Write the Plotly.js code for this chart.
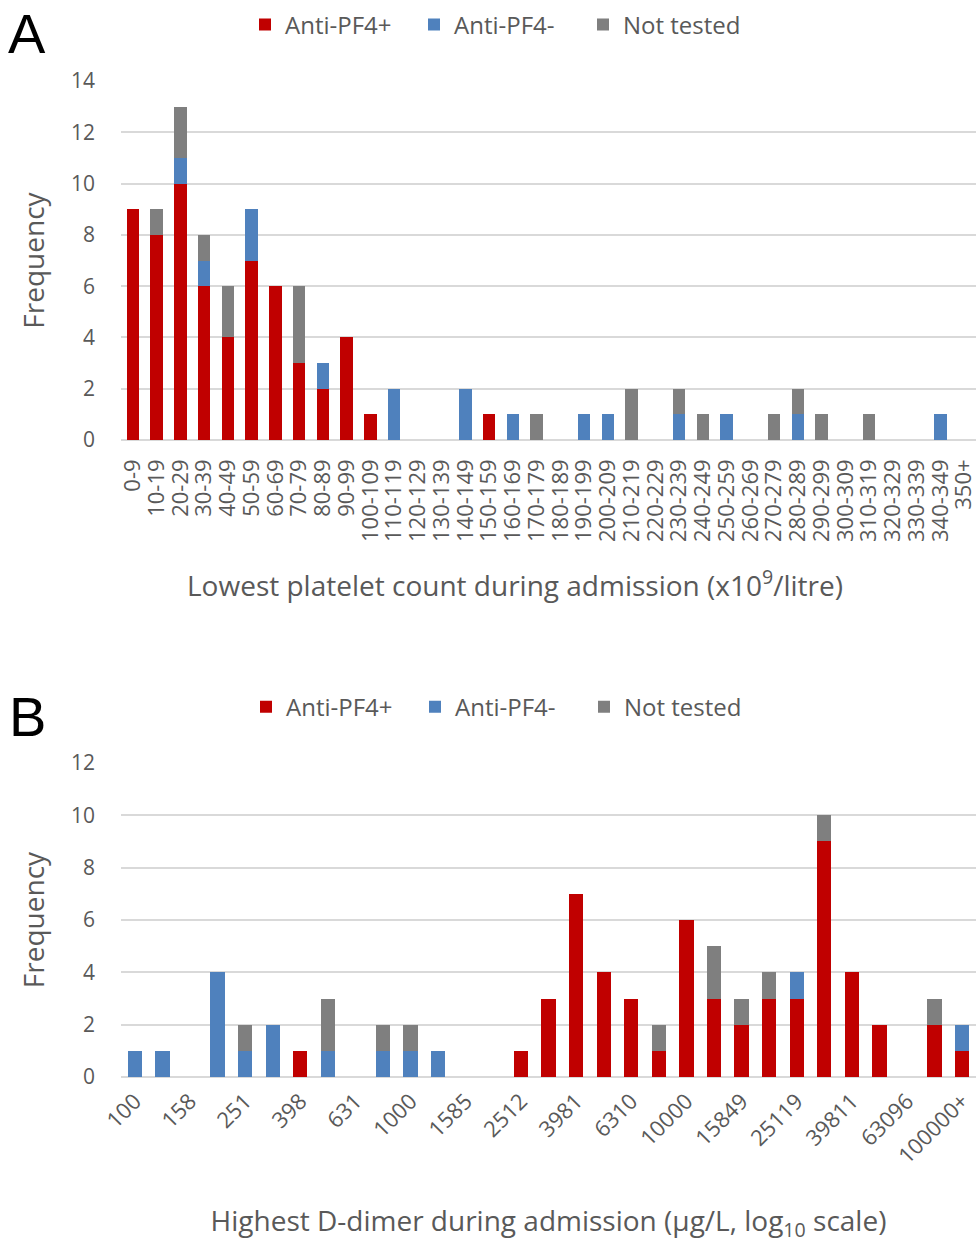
<!DOCTYPE html>
<html>
<head>
<meta charset="utf-8">
<script src="https://cdn.plot.ly/plotly-3.0.1.min.js"></script>
<style>html,body{margin:0;padding:0;background:#fff;}#chart{width:976px;height:1243px;}</style>
</head>
<body>
<div id="chart"></div>
<script>
// ---- Panel A: lowest platelet count ----
const plateletBins = ['0-9','10-19','20-29','30-39','40-49','50-59','60-69','70-79','80-89','90-99',
  '100-109','110-119','120-129','130-139','140-149','150-159','160-169','170-179','180-189','190-199',
  '200-209','210-219','220-229','230-239','240-249','250-259','260-269','270-279','280-289','290-299',
  '300-309','310-319','320-329','330-339','340-349','350+'];
const plateletPos  = [9,8,10,6,4,7,6,3,2,4,1,0,0,0,0,1,0,0,0,0,0,0,0,0,0,0,0,0,0,0,0,0,0,0,0,0];
const plateletNeg  = [0,0,1,1,0,2,0,0,1,0,0,2,0,0,2,0,1,0,0,1,1,0,0,1,0,1,0,0,1,0,0,0,0,0,1,0];
const plateletNT   = [0,1,2,1,2,0,0,3,0,0,0,0,0,0,0,0,0,1,0,0,0,2,0,1,1,0,0,1,1,1,0,1,0,0,0,0];

// ---- Panel B: highest D-dimer (log10 bins) ----
const ddimerBins = ['100','126','158','200','251','316','398','501','631','794','1000','1259','1585','1995',
  '2512','3162','3981','5012','6310','7943','10000','12589','15849','19953','25119','31623','39811',
  '50119','63096','79433','100000+'];
const ddimerPos = [0,0,0,0,0,0,1,0,0,0,0,0,0,0,1,3,7,4,3,1,6,3,2,3,3,9,4,2,0,2,1];
const ddimerNeg = [1,1,0,4,1,2,0,1,0,1,1,1,0,0,0,0,0,0,0,0,0,0,0,0,1,0,0,0,0,0,1];
const ddimerNT  = [0,0,0,0,1,0,0,2,0,1,1,0,0,0,0,0,0,0,0,1,0,2,1,1,0,1,0,0,0,1,0];
const ddimerTicks = ['100','158','251','398','631','1000','1585','2512','3981','6310','10000','15849',
  '25119','39811','63096','100000+'];

const seriesNames = ['Anti-PF4+','Anti-PF4-','Not tested'];
const seriesColors = ['#C00000','#4F81BD','#7F7F7F'];

const FONT = 'Open Sans, Lato, sans-serif';
const GREY = '#595959';

function mk(x, y, i, xa, ya, lg) {
  return {type:'bar', x:x, y:y, name:seriesNames[i], xaxis:xa, yaxis:ya, legend:lg,
    marker:{color:seriesColors[i], line:{width:0}}, hoverinfo:'x+y+name'};
}

const data = [
  mk(plateletBins, plateletPos, 0, 'x', 'y', 'legend'),
  mk(plateletBins, plateletNeg, 1, 'x', 'y', 'legend'),
  mk(plateletBins, plateletNT, 2, 'x', 'y', 'legend'),
  mk(ddimerBins, ddimerPos, 0, 'x2', 'y2', 'legend2'),
  mk(ddimerBins, ddimerNeg, 1, 'x2', 'y2', 'legend2'),
  mk(ddimerBins, ddimerNT, 2, 'x2', 'y2', 'legend2')
];

const yCommon = {dtick:2, showgrid:true, gridcolor:'#d9d9d9', gridwidth:1.5, zeroline:true,
  zerolinecolor:'#d9d9d9', zerolinewidth:1.5, showline:false, ticks:'', ticklabelstandoff:25,
  tickfont:{family:FONT, size:21, color:GREY}, automargin:false};

const legendCommon = {orientation:'h', xanchor:'left', yanchor:'middle', entrywidth:124,
  entrywidthmode:'pixels', font:{family:FONT, size:24, color:GREY}, bgcolor:'rgba(0,0,0,0)',
  traceorder:'normal'};

const layout = {
  width:976, height:1243,
  margin:{l:0, r:0, t:0, b:0},
  paper_bgcolor:'#fff', plot_bgcolor:'#fff',
  barmode:'stack', bargap:0.48,
  font:{family:FONT, color:GREY},
  showlegend:true,
  xaxis:{domain:[0.124,1], anchor:'y', type:'category', range:[-0.5,35.5], showgrid:false,
    showline:false, zeroline:false, ticks:'', tickangle:-90, automargin:false,
    tickmode:'array', tickvals:plateletBins, ticktext:plateletBins, ticklabelstandoff:14,
    tickfont:{family:FONT, size:22, color:GREY}},
  yaxis:Object.assign({}, yCommon, {domain:[0.646,0.9348], anchor:'x', range:[0,14],
    title:{text:'Frequency', standoff:18, font:{family:FONT, size:28, color:GREY}}}),
  xaxis2:{domain:[0.124,1], anchor:'y2', type:'category', range:[-0.5,30.5], showgrid:false,
    showline:false, zeroline:false, ticks:'', tickangle:-45, automargin:false,
    tickmode:'array', tickvals:ddimerTicks, ticktext:ddimerTicks, ticklabelstandoff:6,
    tickfont:{family:FONT, size:22, color:GREY},
    title:{text:'Highest D-dimer during admission (\u03bcg/L, log<sub>10</sub> scale)', standoff:51,
      font:{family:FONT, size:28, color:GREY}}},
  yaxis2:Object.assign({}, yCommon, {domain:[0.1335,0.3862], anchor:'x2', range:[0,12],
    title:{text:'Frequency', standoff:18, font:{family:FONT, size:28, color:GREY}}}),
  legend:Object.assign({}, legendCommon, {x:245/976, y:0.98}),
  legend2:Object.assign({}, legendCommon, {x:246/976, y:0.431}),
  annotations:[
    {text:'Lowest platelet count during admission (x10<sup>9</sup>/litre)', xref:'paper', yref:'paper',
      x:515/976, y:1-583/1243, xanchor:'center', yanchor:'middle', showarrow:false,
      font:{family:FONT, size:28, color:GREY}},
    {text:'A', xref:'paper', yref:'paper', x:27/976, y:1-33/1243, xanchor:'center', yanchor:'middle',
      showarrow:false, font:{family:'Liberation Sans, Arial, sans-serif', size:56, color:'#000'}},
    {text:'B', xref:'paper', yref:'paper', x:27/976, y:1-716/1243, xanchor:'center', yanchor:'middle',
      showarrow:false, font:{family:'Liberation Sans, Arial, sans-serif', size:56, color:'#000'}}
  ]
};

Plotly.newPlot('chart', data, layout, {displayModeBar:false, responsive:false});
</script>
</body>
</html>
